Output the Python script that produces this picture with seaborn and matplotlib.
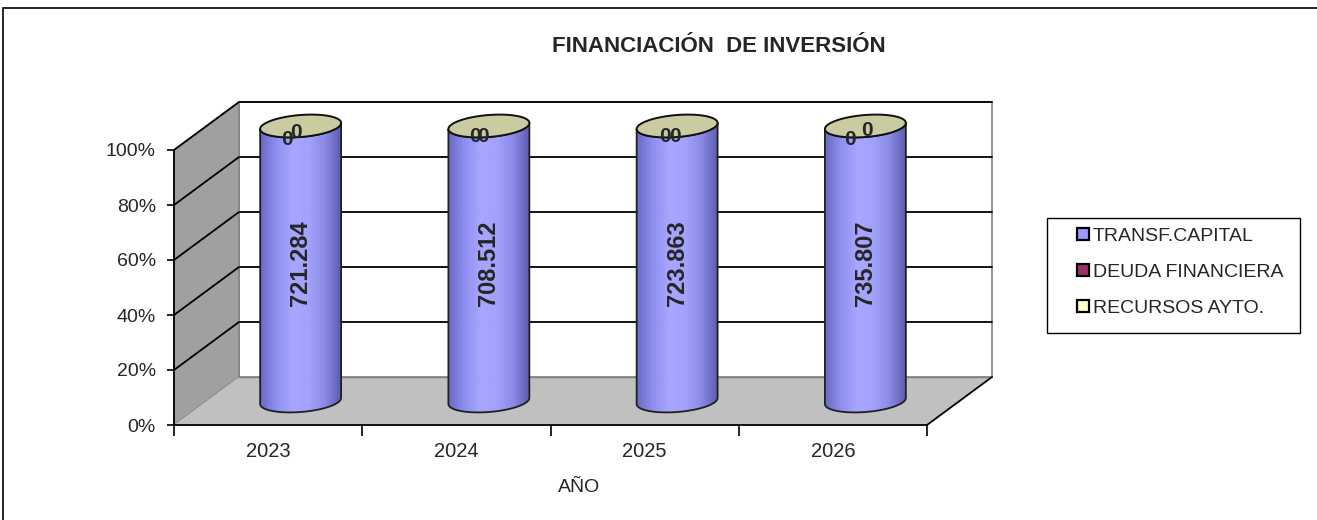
import numpy as np
import pandas as pd
import matplotlib
matplotlib.use('Agg')
import matplotlib.pyplot as plt
import seaborn as sns
from matplotlib.patches import Polygon, Rectangle
from matplotlib.collections import PatchCollection
from matplotlib.lines import Line2D
from matplotlib.colors import LinearSegmentedColormap

# --- datos ---
YEARS = ['2023', '2024', '2025', '2026']
TRANSF_CAPITAL = [721284, 708512, 723863, 735807]
DEUDA_FINANCIERA = [0, 0, 0, 0]
RECURSOS_AYTO = [0, 0, 0, 0]
SERIES = ['TRANSF.CAPITAL', 'DEUDA FINANCIERA', 'RECURSOS AYTO.']
SERIES_COLORS = ['#9999FF', '#993366', '#FFFFCC']
Y_TICKS = [0, 20, 40, 60, 80, 100]

# --- layout (pixels) ---
W, H = 1317, 520
DEPTH_PX = (65, 48)          # desplazamiento de la pared del fondo
CAP_RY_PX = 11               # semieje vertical de la elipse
CAP_TILT = 6 / 80            # inclinación de la elipse
# offsets (px, y hacia abajo) de las etiquetas "0" respecto al centro de la tapa
ZERO_OFFSETS = [[(-14, 13), (-5, 6)],
                [(-14, 11), (-6, 10)],
                [(-12, 11), (-2, 11)],
                [(-15, 13), (2, 4)]]

sns.set_style('white')
plt.rcParams['font.family'] = ['Liberation Sans', 'DejaVu Sans']

df = pd.DataFrame({'Año': YEARS, 'transf': TRANSF_CAPITAL,
                   'deuda': DEUDA_FINANCIERA, 'recursos': RECURSOS_AYTO})
total = df[['transf', 'deuda', 'recursos']].sum(axis=1)
df['pct'] = df['transf'] / total * 100

fig = plt.figure(figsize=(W / 100, H / 100), dpi=100)
ax = fig.add_axes([174 / W, 1 - 425 / H, 753 / W, 275 / H])

sns.barplot(data=df, x='Año', y='pct', width=0.43, color=SERIES_COLORS[0], ax=ax)
ax.set_xlim(-0.5, 3.5)
ax.set_ylim(0, 100)

# conversión px -> unidades de datos
ux = 4 / ax.bbox.width
uy = 100 / ax.bbox.height
dx, dy = DEPTH_PX[0] * ux, DEPTH_PX[1] * uy
ry = CAP_RY_PX * uy
k = CAP_TILT * (uy / ux)

x0, x1 = -0.5, 3.5
# pared del fondo
ax.add_patch(Rectangle((x0 + dx, dy), 4, 100, facecolor='white', edgecolor='#808080',
                       lw=1.2, zorder=0.5, clip_on=False))
for yt in Y_TICKS[1:]:
    ax.plot([x0 + dx, x1 + dx], [yt + dy, yt + dy], color='black', lw=1.3, zorder=0.6, clip_on=False)
# pared lateral
ax.add_patch(Polygon([[x0, 0], [x0 + dx, dy], [x0 + dx, 100 + dy], [x0, 100]], closed=True,
                     facecolor='#a0a0a0', edgecolor='#808080', lw=1, zorder=0.7, clip_on=False))
for yt in Y_TICKS[1:]:
    ax.plot([x0, x0 + dx], [yt, yt + dy], color='black', lw=1.3, zorder=0.8, clip_on=False)
# suelo
ax.add_patch(Polygon([[x0, 0], [x1, 0], [x1 + dx, dy], [x0 + dx, dy]], closed=True,
                     facecolor='#c0c0c0', edgecolor='none', zorder=0.9, clip_on=False))
ax.plot([x1, x1 + dx], [0, dy], color='black', lw=1.3, zorder=0.95, clip_on=False)
ax.plot([x0 + dx, x1 + dx], [dy, dy], color='#808080', lw=1, zorder=0.92, clip_on=False)

cyl_cmap = LinearSegmentedColormap.from_list(
    'cyl', ['#6a6ac4', '#8e8ef0', '#a6a6ff', '#a2a2fc', '#8a8ae6', '#5c5cae'])
N_STRIPS = 60
t_front = np.linspace(np.pi, 2 * np.pi, 80)
t_full = np.linspace(0, 2 * np.pi, 160)

bars = list(ax.patches)[:len(YEARS)]
for i, p in enumerate(bars):
    p.set_visible(False)
    rx = p.get_width() / 2
    xc = p.get_x() + rx + dx / 2
    yb = dy / 2
    yt = p.get_height() + dy / 2

    def arc(t, yc):
        cx = rx * np.cos(t)
        return np.column_stack([xc + cx, yc + ry * np.sin(t) + k * cx])

    body = np.vstack([arc(t_front, yb), arc(t_front[::-1], yt)])
    body_patch = Polygon(body, closed=True, facecolor='none', edgecolor='#202020',
                         lw=1.3, zorder=3.2, transform=ax.transData, clip_on=False)
    ax.add_patch(body_patch)

    # degradado del cilindro en franjas verticales
    edges = np.linspace(xc - rx, xc + rx, N_STRIPS + 1)
    strips = [Rectangle((edges[j], yb - 2 * ry), edges[j + 1] - edges[j], yt - yb + 4 * ry)
              for j in range(N_STRIPS)]
    cols = [cyl_cmap((j + 0.5) / N_STRIPS) for j in range(N_STRIPS)]
    coll = PatchCollection(strips, facecolors=cols, edgecolors=cols, linewidths=0.6, zorder=3)
    ax.add_collection(coll, autolim=False)
    coll.set_clip_path(body_patch)
    coll.set_clip_box(None)

    cap = Polygon(arc(t_full, yt), closed=True, facecolor='#cbcba2', edgecolor='#101010',
                  lw=1.4, zorder=3.4, clip_on=False)
    ax.add_patch(cap)

    label = f"{TRANSF_CAPITAL[i]:,}".replace(',', '.')
    ax.text(xc, df['pct'][i] / 2 + dy / 2, label, rotation=90, ha='center', va='center',
            fontsize=17, fontweight='bold', zorder=4)
    for (ox, oy), v in zip(ZERO_OFFSETS[i], [DEUDA_FINANCIERA[i], RECURSOS_AYTO[i]]):
        ax.text(xc + ox * ux, yt - oy * uy, f"{v}", ha='center', va='center',
                fontsize=15, fontweight='bold', zorder=4)

ax.set_xlim(-0.5, 3.5)
ax.set_ylim(0, 100)

# ejes
for s in ['top', 'right']:
    ax.spines[s].set_visible(False)
for s in ['left', 'bottom']:
    ax.spines[s].set_color('black')
    ax.spines[s].set_linewidth(1.3)
    ax.spines[s].set_zorder(1)
ax.set_yticks(Y_TICKS)
ax.set_yticklabels([f"{v}%" for v in Y_TICKS])
ax.set_xticks(range(len(YEARS)))
ax.set_xticklabels(YEARS)
ax.set_xticks(np.arange(-0.5, 4, 1), minor=True)
ax.tick_params(axis='y', direction='out', length=5, width=1.2, pad=8, labelsize=14,
               left=True, color='black')
ax.tick_params(axis='x', which='major', length=0, pad=12, labelsize=14.5)
ax.tick_params(axis='x', which='minor', direction='out', length=8, width=1.2, bottom=True,
               color='black')
ax.set_ylabel('')
ax.set_xlabel('AÑO', fontsize=14)
ax.xaxis.set_label_coords((579 - 174) / 753, -(488 - 425) / 275)
ax.xaxis.label.set_va('center')

fig.text(719 / W, 1 - 46 / H, 'FINANCIACIÓN  DE INVERSIÓN', ha='center', va='center',
         fontsize=16, fontweight='bold')

# leyenda (marco dibujado aparte)
fig.patches.append(Rectangle((1047 / W, 1 - 333 / H), 253 / W, 115 / H, transform=fig.transFigure,
                             fill=False, edgecolor='black', lw=1))
handles = [Line2D([], [], marker='s', linestyle='none', markersize=8.5, markeredgewidth=1.6,
                  markeredgecolor='black', markerfacecolor=c) for c in SERIES_COLORS]
fig.legend(handles, SERIES, loc='center left', bbox_to_anchor=(1076 / W, 1 - 272 / H),
           frameon=False, fontsize=14, handlelength=0.7, handletextpad=0.18,
           labelspacing=0.94, borderpad=0, borderaxespad=0)

# marco del gráfico
fig.patches.append(Rectangle((3 / W, -0.1), 1.2, 1 - 8 / H + 0.1, transform=fig.transFigure,
                             fill=False, edgecolor='black', lw=1.2))

fig.savefig('out.png', dpi=100)
